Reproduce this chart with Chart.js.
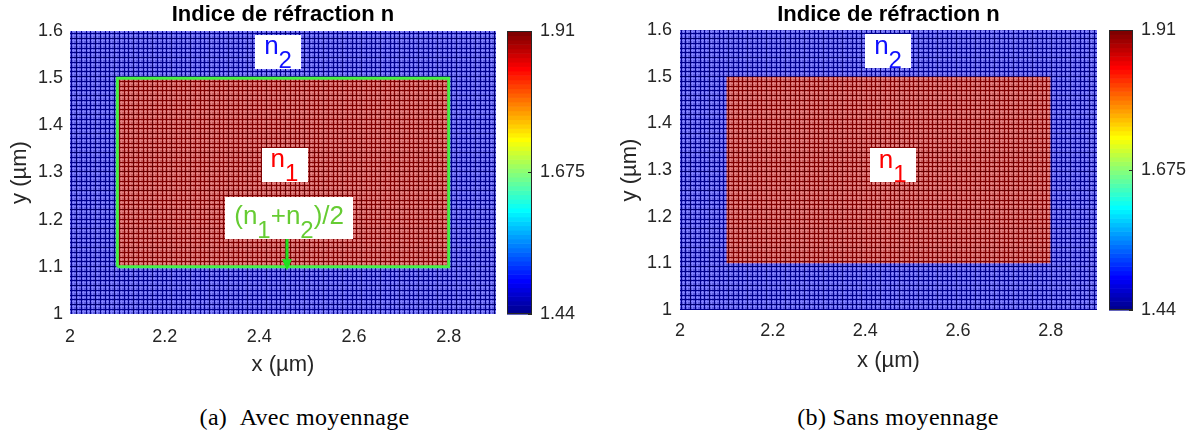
<!DOCTYPE html>
<html><head><meta charset="utf-8">
<script src="https://cdn.jsdelivr.net/npm/chart.js@4.4.0/dist/chart.umd.min.js"></script>
<style>
html,body{margin:0;padding:0;background:#fff;width:1190px;height:432px;overflow:hidden;}
#wrap{position:relative;width:1190px;height:432px;}
.pane{position:absolute;top:0;width:595px;height:380px;}
.cap{position:absolute;top:403px;font-family:"Liberation Serif","Times New Roman",serif;font-size:24px;line-height:28px;white-space:nowrap;transform:translateX(-50%);color:#000;letter-spacing:0.3px;}
</style></head><body>
<div id="wrap">
  <div class="pane" style="left:0"><canvas id="cA" width="595" height="380"></canvas></div>
  <div class="pane" style="left:595px"><canvas id="cB" width="595" height="380"></canvas></div>
  <div class="cap" style="left:304.5px">(a)&nbsp;&nbsp;Avec moyennage</div>
  <div class="cap" style="left:898px">(b) Sans moyennage</div>
</div>
<script>
// ---------------- data ----------------
const xDomain = [2, 2.9];          // µm
const yDomain = [1, 1.6];          // µm
const coreX = [2.1, 2.8];          // µm
const coreY = [1.1, 1.5];          // µm
const nCladding = 1.44;            // n2
const nCore = 1.91;                // n1
const nInterface = 1.675;          // (n1+n2)/2
const xTickValues = [2, 2.2, 2.4, 2.6, 2.8];
const yTickValues = [1, 1.1, 1.2, 1.3, 1.4, 1.5, 1.6];
const cbRange = [1.44, 1.91];
const cbTickValues = [1.44, 1.675, 1.91];
const titleText = 'Indice de réfraction n';

// ---------------- helpers ----------------
Chart.defaults.font.family = '"Liberation Sans", Arial, sans-serif';
const AXIS_COLOR = '#262626';

function jet64(i) { // MATLAB jet(64), i = 1..64
  let r, g, b;
  b = i <= 8 ? 0.5 + 0.0625 * i : (i <= 24 ? 1 : (i <= 40 ? 1 - 0.0625 * (i - 24) : 0));
  g = i <= 8 ? 0 : (i <= 24 ? 0.0625 * (i - 8) : (i <= 40 ? 1 : (i <= 56 ? 1 - 0.0625 * (i - 40) : 0)));
  r = i <= 24 ? 0 : (i <= 40 ? 0.0625 * (i - 24) : (i <= 56 ? 1 : 1 - 0.0625 * (i - 56)));
  return [Math.round(r * 255), Math.round(g * 255), Math.round(b * 255)];
}
function colorOf(n) {
  const t = (n - cbRange[0]) / (cbRange[1] - cbRange[0]);
  const i = Math.min(64, Math.floor(t * 64) + 1);
  return jet64(i);
}
const mix = (a, b, f) => a.map((v, k) => Math.round(v * (1 - f) + b[k] * f));
const rgb = c => `rgb(${c[0]},${c[1]},${c[2]})`;

function meshPattern(n) {
  const base = colorOf(n);
  const vivid = n === nCladding ? [0, 0, 255] : (n === nCore ? [200, 0, 0] : base);
  const face = mix(mix(base, vivid, 0.5), [255, 255, 255], 0.36);
  const light = mix(vivid, [255, 255, 255], 0.5);
  const dark = mix(base, [0, 0, 0], 0.2);
  const P = 19;
  const t = document.createElement('canvas'); t.width = P; t.height = P;
  const c = t.getContext('2d');
  c.fillStyle = rgb(face); c.fillRect(0, 0, P, P);
  c.fillStyle = rgb(light);
  for (const p of [2, 7, 12, 16]) { c.fillRect(p, 0, 1, P); c.fillRect(0, p, P, 1); }
  c.fillStyle = rgb(base);
  for (const p of [5, 10, 14]) { c.fillRect(p, 0, 1, P); c.fillRect(0, p, P, 1); }
  c.fillStyle = rgb(dark);
  c.fillRect(0, 0, 1, P); c.fillRect(0, 0, P, 1);
  return c.createPattern(t, 'repeat');
}

function regionDatasets(withAvg) {
  const ds = [
    { label: 'n2', data: [{x: xDomain[0], y: yDomain[1]}, {x: xDomain[1], y: yDomain[1]}],
      showLine: true, fill: {value: yDomain[0]}, backgroundColor: meshPattern(nCladding),
      borderColor: 'rgba(0,0,0,0)', borderWidth: 1, pointRadius: 0, order: 3 },
    { label: 'n1', data: [{x: coreX[0], y: coreY[1]}, {x: coreX[1], y: coreY[1]}],
      showLine: true, fill: {value: coreY[0]}, backgroundColor: meshPattern(nCore),
      borderColor: 'rgba(0,0,0,0)', borderWidth: 1, pointRadius: 0, order: 2 }
  ];
  if (withAvg) {
    ds.push({ label: '(n1+n2)/2',
      data: [{x: coreX[0], y: coreY[0]}, {x: coreX[0], y: coreY[1]}, {x: coreX[1], y: coreY[1]},
             {x: coreX[1], y: coreY[0]}, {x: coreX[0], y: coreY[0]}],
      showLine: true, fill: false, borderColor: 'rgb(70,240,70)', borderWidth: 3,
      pointRadius: 0, order: 1 });
  }
  return ds;
}

const colorbarPlugin = {
  id: 'colorbar',
  afterDraw(chart, args, opts) {
    const {ctx, chartArea} = chart;
    const cb = chart.scales.cb;
    const x0 = chartArea.right + opts.offset, w = opts.width;
    const top = cb.getPixelForValue(cbRange[1]), bot = cb.getPixelForValue(cbRange[0]);
    const N = 64, h = (bot - top) / N;
    ctx.save();
    for (let i = 0; i < N; i++) {
      ctx.fillStyle = rgb(jet64(i + 1));
      ctx.fillRect(x0, bot - (i + 1) * h, w, h + 0.6);
    }
    ctx.strokeStyle = AXIS_COLOR; ctx.lineWidth = 1;
    ctx.strokeRect(Math.round(x0) + 0.5, Math.round(top) + 0.5, Math.round(w) - 1, Math.round(bot - top) - 1);
    for (const v of cbTickValues) {
      const y = Math.round(cb.getPixelForValue(v)) + 0.5;
      ctx.beginPath(); ctx.moveTo(x0 + w - 4, y); ctx.lineTo(x0 + w, y); ctx.stroke();
    }
    ctx.restore();
  }
};

const annotationPlugin = {
  id: 'labels',
  afterDraw(chart, args, opts) {
    const {ctx} = chart;
    const xs = chart.scales.x, ys = chart.scales.y;
    const mainF = '26px "Liberation Sans", Arial, sans-serif';
    const subF = '24px "Liberation Sans", Arial, sans-serif';
    ctx.save();
    for (const a of opts.items) {
      const cx = xs.getPixelForValue(a.x), cy = ys.getPixelForValue(a.y);
      let W = 0;
      for (const [t, s] of a.parts) { ctx.font = s ? subF : mainF; W += ctx.measureText(t).width; }
      const bw = W + 18, bh = a.h;
      ctx.fillStyle = '#fff';
      ctx.fillRect(Math.round(cx - bw / 2), Math.round(cy - bh / 2), Math.round(bw), bh);
      let x = cx - W / 2;
      const base = cy + a.base;
      ctx.fillStyle = a.color; ctx.textBaseline = 'alphabetic'; ctx.textAlign = 'left';
      for (const [t, s] of a.parts) {
        ctx.font = s ? subF : mainF;
        ctx.fillText(t, x, s ? base + 14 : base);
        x += ctx.measureText(t).width;
      }
      if (a.arrow) {
        const ax = xs.getPixelForValue(a.arrow.x);
        const y1 = cy + bh / 2, y2 = ys.getPixelForValue(a.arrow.y);
        ctx.strokeStyle = '#1ee01e'; ctx.fillStyle = '#1ee01e'; ctx.lineWidth = 3;
        ctx.beginPath(); ctx.moveTo(ax, y1); ctx.lineTo(ax, y2 - 8); ctx.stroke();
        ctx.beginPath(); ctx.moveTo(ax - 5, y2 - 11); ctx.lineTo(ax + 5, y2 - 11); ctx.lineTo(ax, y2); ctx.closePath(); ctx.fill();
      }
    }
    ctx.restore();
  }
};

function noPad(s) { s.paddingTop = 0; s.paddingBottom = 0; s.paddingLeft = 0; s.paddingRight = 0; }

function makeChart(id, g, withAvg, items) {
  const tickFont = {size: 18};
  return new Chart(document.getElementById(id), {
    type: 'scatter',
    data: {datasets: regionDatasets(withAvg)},
    options: {
      responsive: false, animation: false, events: [],
      layout: {padding: {left: g.padL, right: 0, top: 0, bottom: 0}},
      plugins: {
        legend: {display: false}, tooltip: {enabled: false},
        title: {display: true, text: titleText, fullSize: false, color: '#000',
                font: {size: 22, weight: 'bold'}, padding: {top: g.tTop, bottom: g.tBot}},
        colorbar: {offset: g.cbOff, width: g.cbW},
        labels: {items}
      },
      scales: {
        x: { type: 'linear', position: 'bottom', min: xDomain[0], max: xDomain[1],
          afterBuildTicks: s => { s.ticks = xTickValues.map(v => ({value: v})); },
          afterFit: s => { s.height = g.xH; noPad(s); },
          ticks: {font: tickFont, color: AXIS_COLOR, padding: g.xTickPad, autoSkip: false, maxRotation: 0, callback: v => String(v)},
          grid: {display: false, drawTicks: false}, border: {display: false},
          title: {display: true, text: 'x (µm)', color: AXIS_COLOR, font: {size: 22}, padding: {top: 0, bottom: g.xTitlePad}} },
        y: { type: 'linear', position: 'left', min: yDomain[0], max: yDomain[1],
          afterBuildTicks: s => { s.ticks = yTickValues.map(v => ({value: v})); },
          afterFit: s => { s.width = 70; noPad(s); },
          ticks: {font: tickFont, color: AXIS_COLOR, padding: g.yTickPad, autoSkip: false, callback: v => String(v)},
          grid: {display: false, drawTicks: false}, border: {display: false},
          title: {display: true, text: 'y (µm)', color: AXIS_COLOR, font: {size: 22}, padding: {top: 6.8, bottom: 0}} },
        cb: { type: 'linear', axis: 'y', position: 'right', min: cbRange[0], max: cbRange[1],
          afterBuildTicks: s => { s.ticks = cbTickValues.map(v => ({value: v})); },
          afterFit: s => { s.width = g.cbAxisW; noPad(s); },
          ticks: {font: tickFont, color: AXIS_COLOR, padding: 44, autoSkip: false, callback: v => String(v)},
          grid: {display: false, drawTicks: false}, border: {display: false} }
      }
    },
    plugins: [colorbarPlugin, annotationPlugin]
  });
}

makeChart('cA',
  {padL: 0, tTop: 2, tBot: 2.6, xH: 66, xTickPad: 12, xTitlePad: 1.8, yTickPad: 7, cbAxisW: 99, cbOff: 11, cbW: 25},
  true,
  [
    {x: 2.4395, y: 1.5555, parts: [['n', 0], ['2', 1]], color: '#1010ff', h: 34, base: 2.5},
    {x: 2.453, y: 1.316, parts: [['n', 0], ['1', 1]], color: '#ff0000', h: 34, base: 2.5},
    {x: 2.463, y: 1.2036, parts: [['(', 0], ['n', 0], ['1', 1], ['+', 0], ['n', 0], ['2', 1], [')/2', 0]],
     color: '#66cc33', h: 42, base: 6, arrow: {x: 2.4585, y: 1.093}}
  ]);

makeChart('cB',
  {padL: 15, tTop: 2, tBot: 1.6, xH: 70, xTickPad: 10, xTitlePad: 5.8, yTickPad: 8, cbAxisW: 93, cbOff: 12, cbW: 24},
  false,
  [
    {x: 2.449, y: 1.554, parts: [['n', 0], ['2', 1]], color: '#1010ff', h: 34, base: 2.5},
    {x: 2.459, y: 1.3097, parts: [['n', 0], ['1', 1]], color: '#ff0000', h: 34, base: 2.5}
  ]);
</script>
</body></html>
